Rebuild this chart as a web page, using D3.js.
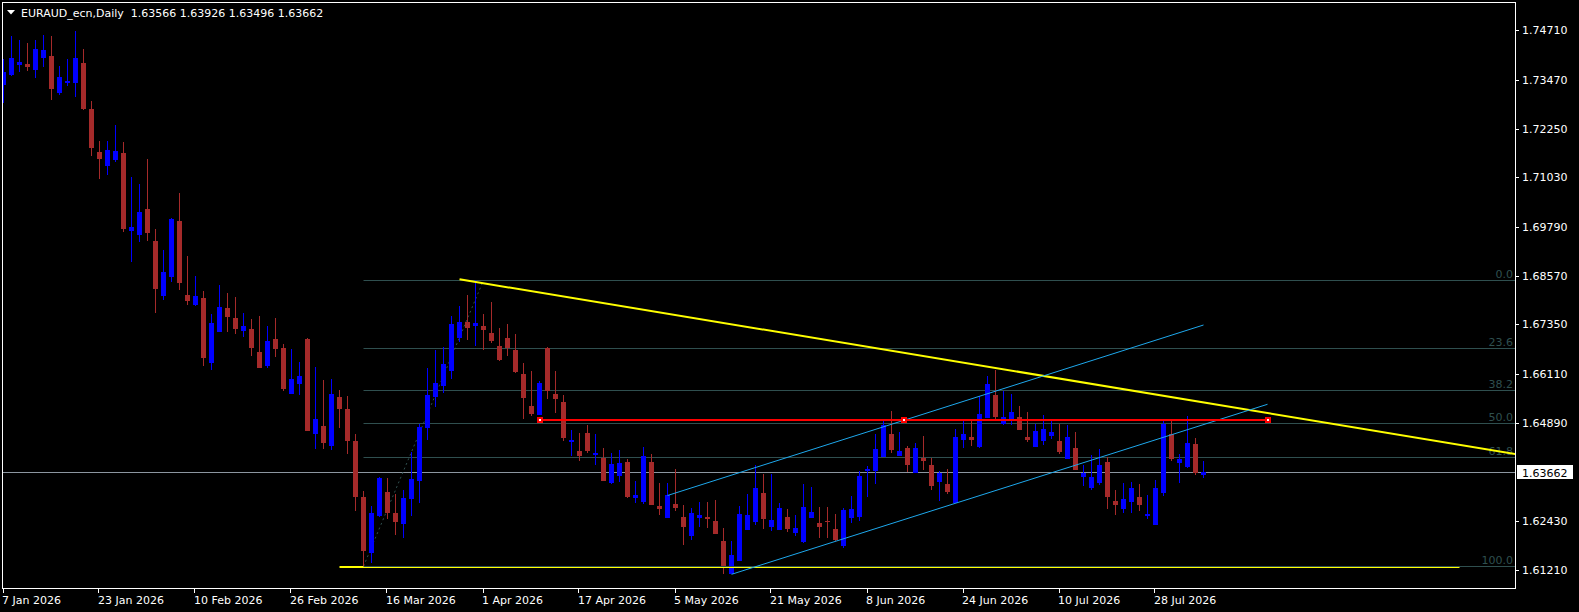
<!DOCTYPE html>
<html>
<head>
<meta charset="utf-8">
<script src="https://cdn.jsdelivr.net/npm/d3@7"></script>
<style>
  html, body { margin: 0; padding: 0; background: #000; }
  svg { display: block; }
  text { font-family: "DejaVu Sans", Tahoma, sans-serif; font-size: 11px; }
</style>
</head>
<body>
<svg id="chart" width="1579" height="612"></svg>
<script>
// ── Data (daily EURAUD bars) ──
const symbol = 'EURAUD_ecn,Daily';

const opens = [
  1.7334, 1.7359, 1.7384, 1.7387, 1.7372, 1.7402, 1.7407, 1.7314, 1.7339, 1.7339,
  1.7389, 1.7274, 1.7167, 1.7131, 1.7146, 1.7164, 1.6969, 1.6959, 1.7024, 1.6944,
  1.6806, 1.6854, 1.6994, 1.6809, 1.6784, 1.6801, 1.6638, 1.6716, 1.6776, 1.6751,
  1.6718, 1.6723, 1.6666, 1.6631, 1.6698, 1.6676, 1.6561, 1.6586, 1.6698, 1.6460,
  1.6480, 1.6430, 1.6553, 1.6523, 1.6443, 1.6303, 1.6163, 1.6255, 1.6315, 1.6263,
  1.6235, 1.6298, 1.6343, 1.6476, 1.6553, 1.6581, 1.6618, 1.6701, 1.6741, 1.6731,
  1.6731, 1.6713, 1.6681, 1.6701, 1.6671, 1.6611, 1.6531, 1.6508, 1.6676, 1.6561,
  1.6541, 1.6441, 1.6418, 1.6463, 1.6408, 1.6400, 1.6338, 1.6355, 1.6390, 1.6300,
  1.6290, 1.6390, 1.6280, 1.6250, 1.6285, 1.6253, 1.6205, 1.6250, 1.6253, 1.6243,
  1.6193, 1.6110, 1.6143, 1.6220, 1.6240, 1.6313, 1.6228, 1.6220, 1.6253, 1.6213,
  1.6190, 1.6250, 1.6238, 1.6243, 1.6223, 1.6180, 1.6250, 1.6253, 1.6368, 1.6368,
  1.6403, 1.6460, 1.6405, 1.6425, 1.6363, 1.6400, 1.6383, 1.6340, 1.6335, 1.6288,
  1.6446, 1.6453, 1.6428, 1.6501, 1.6558, 1.6486, 1.6496, 1.6503, 1.6453, 1.6428,
  1.6443, 1.6455, 1.6443, 1.6398, 1.6425, 1.6353, 1.6325, 1.6338, 1.6390, 1.6293,
  1.6273, 1.6290, 1.6303, 1.6255, 1.6233, 1.6313, 1.6460, 1.6388, 1.6378, 1.6435,
  1.63566
];

const highs = [
  1.7399, 1.7457, 1.7447, 1.7439, 1.7447, 1.7460, 1.7457, 1.7382, 1.7399, 1.7470,
  1.7424, 1.7294, 1.7194, 1.7194, 1.7234, 1.7192, 1.7104, 1.7086, 1.7149, 1.6974,
  1.6921, 1.7001, 1.7064, 1.6906, 1.6856, 1.6819, 1.6761, 1.6834, 1.6814, 1.6804,
  1.6763, 1.6748, 1.6756, 1.6731, 1.6751, 1.6686, 1.6673, 1.6641, 1.6701, 1.6628,
  1.6596, 1.6598, 1.6571, 1.6556, 1.6460, 1.6318, 1.6280, 1.6353, 1.6350, 1.6310,
  1.6320, 1.6415, 1.6486, 1.6626, 1.6671, 1.6678, 1.6756, 1.6781, 1.6809, 1.6847,
  1.6761, 1.6791, 1.6726, 1.6736, 1.6711, 1.6638, 1.6618, 1.6593, 1.6678, 1.6618,
  1.6558, 1.6471, 1.6463, 1.6483, 1.6460, 1.6425, 1.6413, 1.6420, 1.6398, 1.6343,
  1.6428, 1.6410, 1.6338, 1.6338, 1.6373, 1.6283, 1.6275, 1.6290, 1.6290, 1.6295,
  1.6225, 1.6193, 1.6280, 1.6310, 1.6383, 1.6360, 1.6360, 1.6288, 1.6273, 1.6258,
  1.6335, 1.6328, 1.6278, 1.6278, 1.6260, 1.6275, 1.6305, 1.6368, 1.6380, 1.6460,
  1.6493, 1.6518, 1.6465, 1.6430, 1.6438, 1.6455, 1.6400, 1.6368, 1.6373, 1.6473,
  1.6493, 1.6493, 1.6556, 1.6606, 1.6621, 1.6568, 1.6561, 1.6531, 1.6516, 1.6486,
  1.6508, 1.6493, 1.6486, 1.6483, 1.6465, 1.6383, 1.6408, 1.6423, 1.6403, 1.6320,
  1.6338, 1.6340, 1.6335, 1.6308, 1.6345, 1.6493, 1.6493, 1.6410, 1.6506, 1.6450,
  1.63926
];

const lows = [
  1.7289, 1.7357, 1.7367, 1.7369, 1.7352, 1.7379, 1.7297, 1.7309, 1.7332, 1.7304,
  1.7272, 1.7157, 1.7099, 1.7109, 1.7141, 1.6966, 1.6891, 1.6941, 1.6944, 1.6763,
  1.6796, 1.6841, 1.6821, 1.6784, 1.6781, 1.6631, 1.6621, 1.6716, 1.6716, 1.6711,
  1.6703, 1.6656, 1.6626, 1.6626, 1.6653, 1.6568, 1.6561, 1.6558, 1.6468, 1.6423,
  1.6423, 1.6420, 1.6476, 1.6410, 1.6268, 1.6129, 1.6138, 1.6253, 1.6248, 1.6208,
  1.6200, 1.6255, 1.6288, 1.6446, 1.6528, 1.6563, 1.6598, 1.6691, 1.6696, 1.6681,
  1.6671, 1.6688, 1.6643, 1.6656, 1.6613, 1.6498, 1.6506, 1.6508, 1.6548, 1.6513,
  1.6443, 1.6405, 1.6393, 1.6413, 1.6383, 1.6343, 1.6335, 1.6340, 1.6300, 1.6288,
  1.6285, 1.6283, 1.6258, 1.6250, 1.6268, 1.6183, 1.6195, 1.6228, 1.6225, 1.6210,
  1.6110, 1.6109, 1.6143, 1.6220, 1.6233, 1.6223, 1.6218, 1.6220, 1.6215, 1.6205,
  1.6188, 1.6250, 1.6200, 1.6200, 1.6193, 1.6175, 1.6238, 1.6243, 1.6303, 1.6335,
  1.6403, 1.6413, 1.6405, 1.6365, 1.6363, 1.6370, 1.6320, 1.6293, 1.6310, 1.6288,
  1.6425, 1.6430, 1.6425, 1.6501, 1.6498, 1.6483, 1.6483, 1.6471, 1.6441, 1.6428,
  1.6433, 1.6448, 1.6410, 1.6398, 1.6370, 1.6330, 1.6320, 1.6333, 1.6273, 1.6258,
  1.6263, 1.6263, 1.6268, 1.6248, 1.6233, 1.6305, 1.6393, 1.6338, 1.6375, 1.6358,
  1.63496
];

const closes = [
  1.7367, 1.7402, 1.7392, 1.7379, 1.7424, 1.7422, 1.7324, 1.7354, 1.7344, 1.7402,
  1.7274, 1.7177, 1.7149, 1.7172, 1.7169, 1.6974, 1.6979, 1.7016, 1.6964, 1.6824,
  1.6866, 1.6999, 1.6839, 1.6794, 1.6806, 1.6651, 1.6738, 1.6779, 1.6753, 1.6723,
  1.6731, 1.6676, 1.6626, 1.6693, 1.6673, 1.6573, 1.6598, 1.6606, 1.6468, 1.6498,
  1.6438, 1.6561, 1.6523, 1.6443, 1.6303, 1.6168, 1.6263, 1.6350, 1.6263, 1.6240,
  1.6300, 1.6348, 1.6478, 1.6558, 1.6588, 1.6636, 1.6736, 1.6741, 1.6726, 1.6738,
  1.6721, 1.6693, 1.6646, 1.6676, 1.6616, 1.6551, 1.6511, 1.6588, 1.6568, 1.6548,
  1.6450, 1.6446, 1.6405, 1.6418, 1.6413, 1.6343, 1.6385, 1.6388, 1.6303, 1.6308,
  1.6405, 1.6283, 1.6273, 1.6308, 1.6275, 1.6228, 1.6263, 1.6258, 1.6248, 1.6210,
  1.6130, 1.6158, 1.6260, 1.6258, 1.6325, 1.6248, 1.6245, 1.6275, 1.6223, 1.6225,
  1.6278, 1.6265, 1.6228, 1.6240, 1.6195, 1.6270, 1.6273, 1.6355, 1.6373, 1.6423,
  1.6483, 1.6420, 1.6418, 1.6383, 1.6425, 1.6393, 1.6330, 1.6363, 1.6315, 1.6453,
  1.6460, 1.6446, 1.6511, 1.6586, 1.6503, 1.6503, 1.6516, 1.6471, 1.6446, 1.6468,
  1.6473, 1.6465, 1.6415, 1.6453, 1.6370, 1.6363, 1.6353, 1.6383, 1.6303, 1.6283,
  1.6298, 1.6325, 1.6283, 1.6260, 1.6325, 1.6486, 1.6398, 1.6398, 1.6438, 1.6363,
  1.63662
];

// time axis: one label every 12 bars
const dateLabels = [
  '7 Jan 2026', '23 Jan 2026', '10 Feb 2026', '26 Feb 2026', '16 Mar 2026',
  '1 Apr 2026', '17 Apr 2026', '5 May 2026', '21 May 2026', '8 Jun 2026',
  '24 Jun 2026', '10 Jul 2026', '28 Jul 2026'
];
const barsPerLabel = 12;

const priceTicks = [1.74710, 1.73470, 1.72250, 1.71030, 1.69790, 1.68570,
  1.67350, 1.66110, 1.64890, 1.62430, 1.61210];

// Fibonacci retracement: anchored bar 45 (low) → bar 60 (high)
const fibLevels = [0.0, 23.6, 38.2, 50.0, 61.8, 100.0];
const fibBars = [45, 60];
const fibPrices = [1.61293, 1.68453];

// hand-drawn objects: [bar, price] endpoints
const trendBars = [57, 158];        // yellow resistance ray
const trendPrices = [1.68478, 1.65131];
const supportBars = [42, 182];      // yellow horizontal at the low
const supportPrice = 1.61275;
const levelBars = [67, 158];        // red horizontal
const levelPrice = 1.64960;
const channelUpBars = [83, 150];
const channelUpPrices = [1.63065, 1.67334];
const channelLoBars = [91, 158];
const channelLoPrices = [1.61092, 1.65349];

// ── Layout ──
const W = 1579, H = 612;
const PLOT = { left: 2.5, top: 2.5, right: 1515.5, bottom: 588.5 };
const BAR_SLOTS = 189;
const BODY_W = 5;

const C = {
  bull: '#0000ff',
  bear: '#a52a2a',
  fib: '#2f4f4f',
  bid: '#8c96a0',
  yellow: '#ffff00',
  red: '#ff0000',
  channel: '#1ea8ec',
  axis: '#ffffff',
};

const svg = d3.select('#chart');
svg.append('rect').attr('width', W).attr('height', H).attr('fill', '#000');

const x = d3.scaleLinear().domain([0, BAR_SLOTS]).range([3.5, 3.5 + 8 * BAR_SLOTS]);
const y = d3.scaleLinear().domain([1.6121, 1.7471]).range([569.6, 30.4]);

svg.append('defs').append('clipPath').attr('id', 'plot-clip')
  .append('rect')
  .attr('x', PLOT.left + 0.5).attr('y', PLOT.top + 0.5)
  .attr('width', PLOT.right - PLOT.left - 1).attr('height', PLOT.bottom - PLOT.top - 1);

const plot = svg.append('g').attr('clip-path', 'url(#plot-clip)');

const bars = closes.map((c, i) => ({ i, o: opens[i], h: highs[i], l: lows[i], c }));
const last = bars[bars.length - 1];

// price at bar b on a line through two [bar, price] points
const along = (b0, b1, p0, p1) => (b) => p0 + (p1 - p0) * (b - b0) / (b1 - b0);

// ── current bid line ──
plot.append('line')
  .attr('x1', PLOT.left).attr('x2', PLOT.right)
  .attr('y1', Math.round(y(last.c)) + 0.5).attr('y2', Math.round(y(last.c)) + 0.5)
  .attr('stroke', C.bid).attr('stroke-width', 1);

// ── Fibonacci levels ──
const fibRange = fibPrices[1] - fibPrices[0];
const fibData = fibLevels.map((lv) => ({ lv, p: fibPrices[1] - fibRange * lv / 100 }));

plot.append('g').selectAll('line')
  .data(fibData)
  .join('line')
  .attr('x1', x(fibBars[0])).attr('x2', PLOT.right)
  .attr('y1', (d) => Math.round(y(d.p)) + 0.5).attr('y2', (d) => Math.round(y(d.p)) + 0.5)
  .attr('stroke', C.fib).attr('stroke-width', 1);

plot.append('line')
  .attr('x1', x(fibBars[0])).attr('y1', y(fibPrices[0]))
  .attr('x2', x(fibBars[1])).attr('y2', y(fibPrices[1]))
  .attr('stroke', C.fib).attr('stroke-width', 1).attr('stroke-dasharray', '2,3');

// ── candles ──
const candles = plot.append('g').attr('shape-rendering', 'crispEdges')
  .selectAll('g').data(bars).join('g');

candles.append('line')
  .attr('x1', (d) => x(d.i)).attr('x2', (d) => x(d.i))
  .attr('y1', (d) => y(d.h)).attr('y2', (d) => y(d.l))
  .attr('stroke', (d) => (d.c >= d.o ? C.bull : C.bear)).attr('stroke-width', 1);

candles.append('rect')
  .attr('x', (d) => x(d.i) - BODY_W / 2)
  .attr('width', BODY_W)
  .attr('y', (d) => y(Math.max(d.o, d.c)))
  .attr('height', (d) => Math.max(1, Math.abs(y(d.o) - y(d.c))))
  .attr('fill', (d) => (d.c >= d.o ? C.bull : C.bear));

// fib labels (sit under the drawn objects)
plot.append('g').selectAll('text')
  .data(fibData)
  .join('text')
  .attr('x', PLOT.right - 2.5)
  .attr('y', (d) => Math.round(y(d.p)) - 2)
  .attr('text-anchor', 'end')
  .attr('fill', C.fib)
  .text((d) => d.lv.toFixed(1));

// ── hand-drawn objects ──
plot.append('line')
  .attr('x1', x(supportBars[0])).attr('x2', x(supportBars[1]))
  .attr('y1', y(supportPrice)).attr('y2', y(supportPrice))
  .attr('stroke', C.yellow).attr('stroke-width', 2);

// the fib 100 line runs over the yellow support
plot.append('line')
  .attr('x1', x(fibBars[0])).attr('x2', PLOT.right)
  .attr('y1', Math.round(y(fibPrices[0])) + 0.5).attr('y2', Math.round(y(fibPrices[0])) + 0.5)
  .attr('stroke', C.fib).attr('stroke-width', 1);

const trendAt = along(trendBars[0], trendBars[1], trendPrices[0], trendPrices[1]);
plot.append('line')
  .attr('x1', x(trendBars[0])).attr('y1', y(trendAt(trendBars[0])))
  .attr('x2', x(BAR_SLOTS + 1)).attr('y2', y(trendAt(BAR_SLOTS + 1)))
  .attr('stroke', C.yellow).attr('stroke-width', 2);

[[channelUpBars, channelUpPrices], [channelLoBars, channelLoPrices]].forEach(([b, p]) => {
  plot.append('line')
    .attr('x1', x(b[0])).attr('y1', y(p[0]))
    .attr('x2', x(b[1])).attr('y2', y(p[1]))
    .attr('stroke', C.channel).attr('stroke-width', 1);
});

const levelY = Math.round(y(levelPrice));
plot.append('line')
  .attr('x1', x(levelBars[0])).attr('x2', x(levelBars[1]))
  .attr('y1', levelY).attr('y2', levelY)
  .attr('stroke', C.red).attr('stroke-width', 2);

const handles = plot.append('g').attr('shape-rendering', 'crispEdges')
  .selectAll('g')
  .data([levelBars[0], (levelBars[0] + levelBars[1]) / 2, levelBars[1]])
  .join('g')
  .attr('transform', (b) => `translate(${Math.round(x(b))}, ${levelY})`);
handles.append('rect').attr('x', -3).attr('y', -3).attr('width', 6).attr('height', 6).attr('fill', C.red);
handles.append('rect').attr('x', -1).attr('y', -1).attr('width', 2).attr('height', 2).attr('fill', '#fff');

// ── frame ──
svg.append('rect')
  .attr('x', PLOT.left).attr('y', PLOT.top)
  .attr('width', PLOT.right - PLOT.left).attr('height', PLOT.bottom - PLOT.top)
  .attr('fill', 'none').attr('stroke', C.axis).attr('stroke-width', 1)
  .attr('shape-rendering', 'crispEdges');

// ── price axis ──
const pAxis = svg.append('g').attr('shape-rendering', 'crispEdges');
pAxis.selectAll('line').data(priceTicks).join('line')
  .attr('x1', PLOT.right).attr('x2', PLOT.right + 3)
  .attr('y1', (d) => Math.round(y(d)) + 0.5).attr('y2', (d) => Math.round(y(d)) + 0.5)
  .attr('stroke', C.axis);
svg.append('g').selectAll('text').data(priceTicks).join('text')
  .attr('x', PLOT.right + 6.5)
  .attr('y', (d) => y(d) + 4)
  .attr('fill', C.axis)
  .text((d) => d.toFixed(5));

// current price tag
const tagY = Math.round(y(last.c));
svg.append('rect')
  .attr('x', PLOT.right + 1.5).attr('y', tagY - 7)
  .attr('width', 56).attr('height', 14).attr('fill', '#fff');
svg.append('text')
  .attr('x', PLOT.right + 6.5).attr('y', tagY + 4.5)
  .attr('fill', '#000')
  .text(last.c.toFixed(5));

// ── time axis ──
const tAxis = svg.append('g');
tAxis.selectAll('line').data(dateLabels).join('line')
  .attr('x1', (d, i) => Math.round(x(i * barsPerLabel)) - 0.5)
  .attr('x2', (d, i) => Math.round(x(i * barsPerLabel)) - 0.5)
  .attr('y1', PLOT.bottom).attr('y2', PLOT.bottom + 4)
  .attr('stroke', C.axis).attr('shape-rendering', 'crispEdges');
tAxis.selectAll('text').data(dateLabels).join('text')
  .attr('x', (d, i) => x(i * barsPerLabel) - 1.5)
  .attr('y', 604)
  .attr('fill', C.axis)
  .text((d) => d);

// ── title ──
svg.append('path').attr('d', 'M7,10 L15,10 L11,14.5 Z').attr('fill', '#fff');
svg.append('text')
  .attr('x', 21).attr('y', 17)
  .attr('fill', '#fff')
  .attr('xml:space', 'preserve')
  .style('white-space', 'pre')
  .text(`${symbol}  ${[last.o, last.h, last.l, last.c].map((v) => v.toFixed(5)).join(' ')}`);
</script>
</body>
</html>
